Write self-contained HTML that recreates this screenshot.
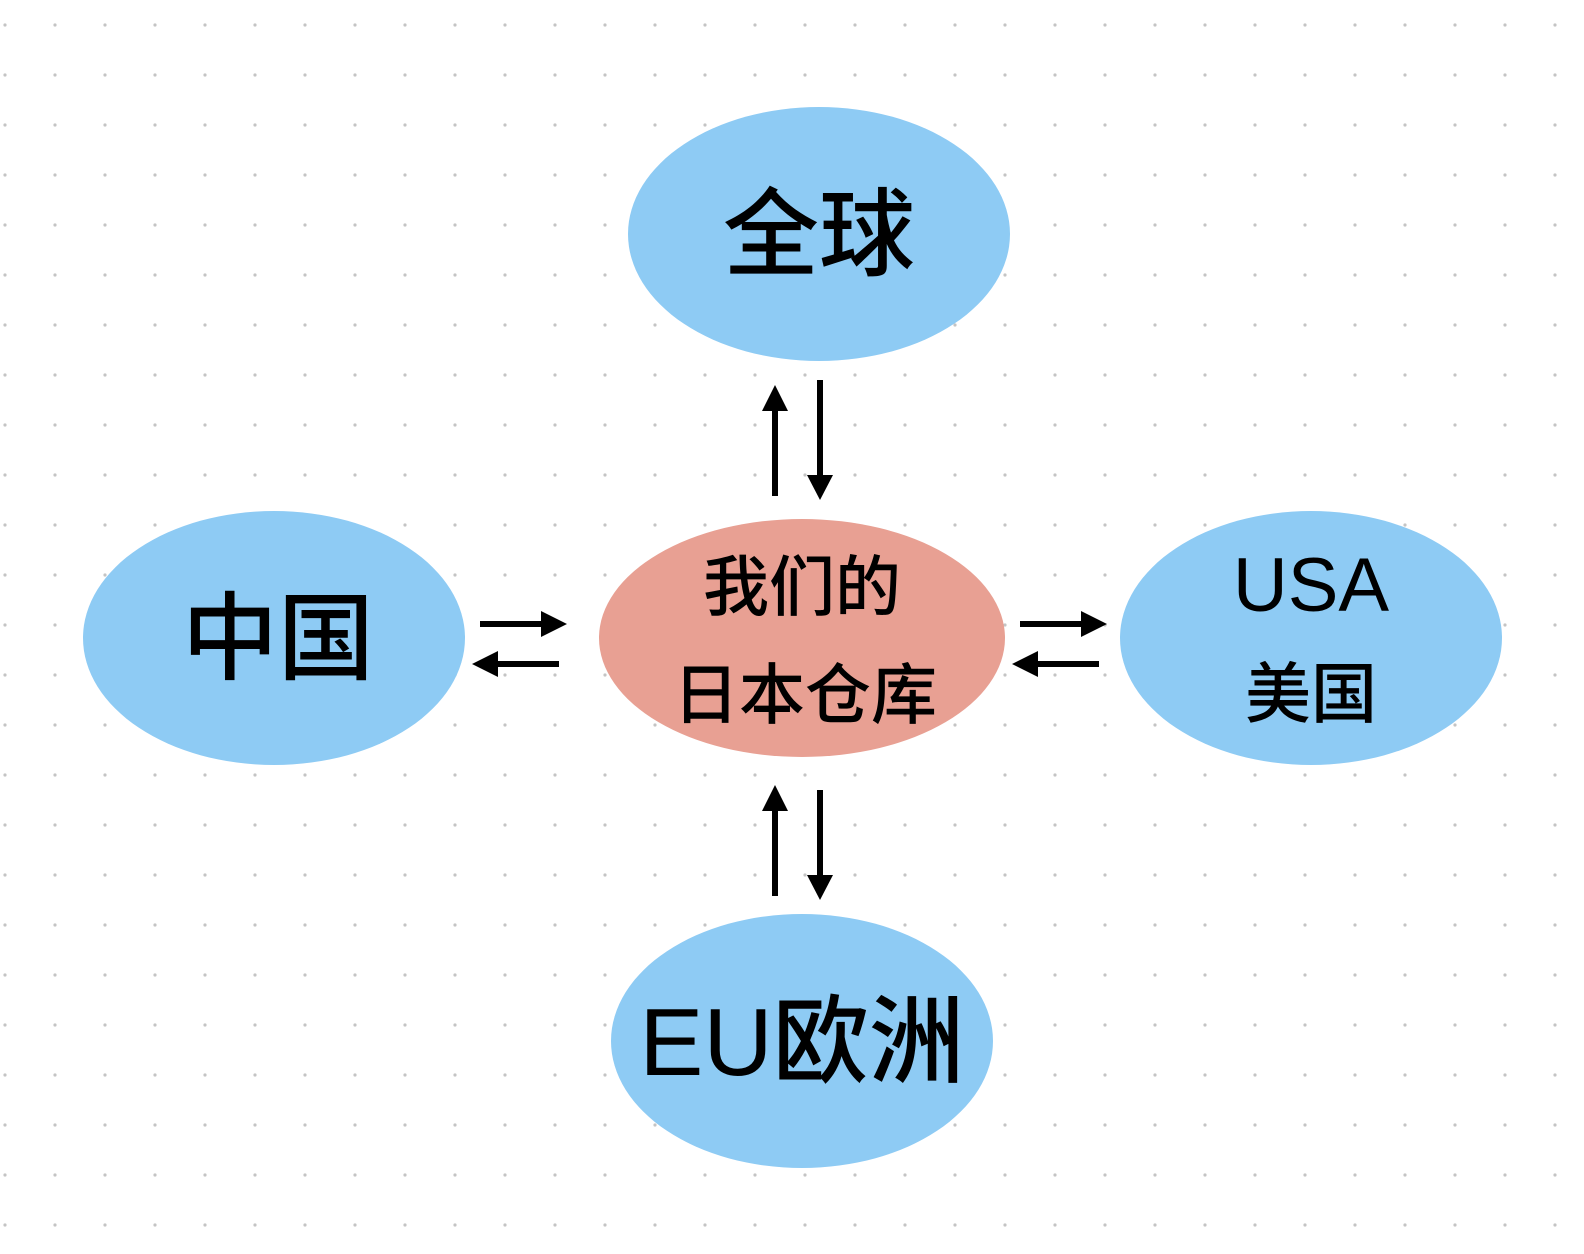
<!DOCTYPE html>
<html><head><meta charset="utf-8"><style>
html,body{margin:0;padding:0;background:#fff;}
svg{display:block;}
text{font-family:"Liberation Sans","Noto Sans CJK SC",sans-serif;fill:#000;text-anchor:middle;font-weight:500;}
</style></head><body>
<svg width="1584" height="1254" viewBox="0 0 1584 1254" xmlns="http://www.w3.org/2000/svg">
<defs>
<pattern id="dots" x="5" y="25" width="50" height="50" patternUnits="userSpaceOnUse">
<circle cx="0" cy="0" r="1.6" fill="#c4c4c4"/><circle cx="50" cy="0" r="1.6" fill="#c4c4c4"/><circle cx="0" cy="50" r="1.6" fill="#c4c4c4"/><circle cx="50" cy="50" r="1.6" fill="#c4c4c4"/>
</pattern>
</defs>
<rect width="1584" height="1254" fill="url(#dots)"/>
<ellipse cx="819" cy="234" rx="191" ry="127" fill="#8ecbf4"/>
<ellipse cx="274" cy="638" rx="191" ry="127" fill="#8ecbf4"/>
<ellipse cx="1311" cy="638" rx="191" ry="127" fill="#8ecbf4"/>
<ellipse cx="802" cy="1041" rx="191" ry="127" fill="#8ecbf4"/>
<ellipse cx="802" cy="638" rx="203" ry="119" fill="#e8a093"/>
<text x="819" y="268" font-size="96">全球</text>
<text x="278" y="672" font-size="96">中国</text>
<text x="1311" y="611" font-size="76">USA</text>
<text x="1311" y="717" font-size="66">美国</text>
<text x="802" y="1075" font-size="96">EU欧洲</text>
<text x="802" y="610" font-size="66">我们的</text>
<text x="805" y="718" font-size="66">日本仓库</text>
<g fill="#000" stroke="none">
<rect x="772" y="408" width="6" height="88"/><polygon points="762,411 788,411 775,385"/>
<rect x="817" y="380" width="6" height="96"/><polygon points="807,475 833,475 820,500"/>
<rect x="772" y="808" width="6" height="88"/><polygon points="762,811 788,811 775,785"/>
<rect x="817" y="790" width="6" height="86"/><polygon points="807,875 833,875 820,900"/>
<rect x="480" y="621" width="62" height="6"/><polygon points="541,611 541,637 567,624"/>
<rect x="497" y="661" width="62" height="6"/><polygon points="498,651 498,677 472,664"/>
<rect x="1020" y="621" width="62" height="6"/><polygon points="1081,611 1081,637 1107,624"/>
<rect x="1037" y="661" width="62" height="6"/><polygon points="1038,651 1038,677 1012,664"/>
</g>
</svg>
</body></html>
